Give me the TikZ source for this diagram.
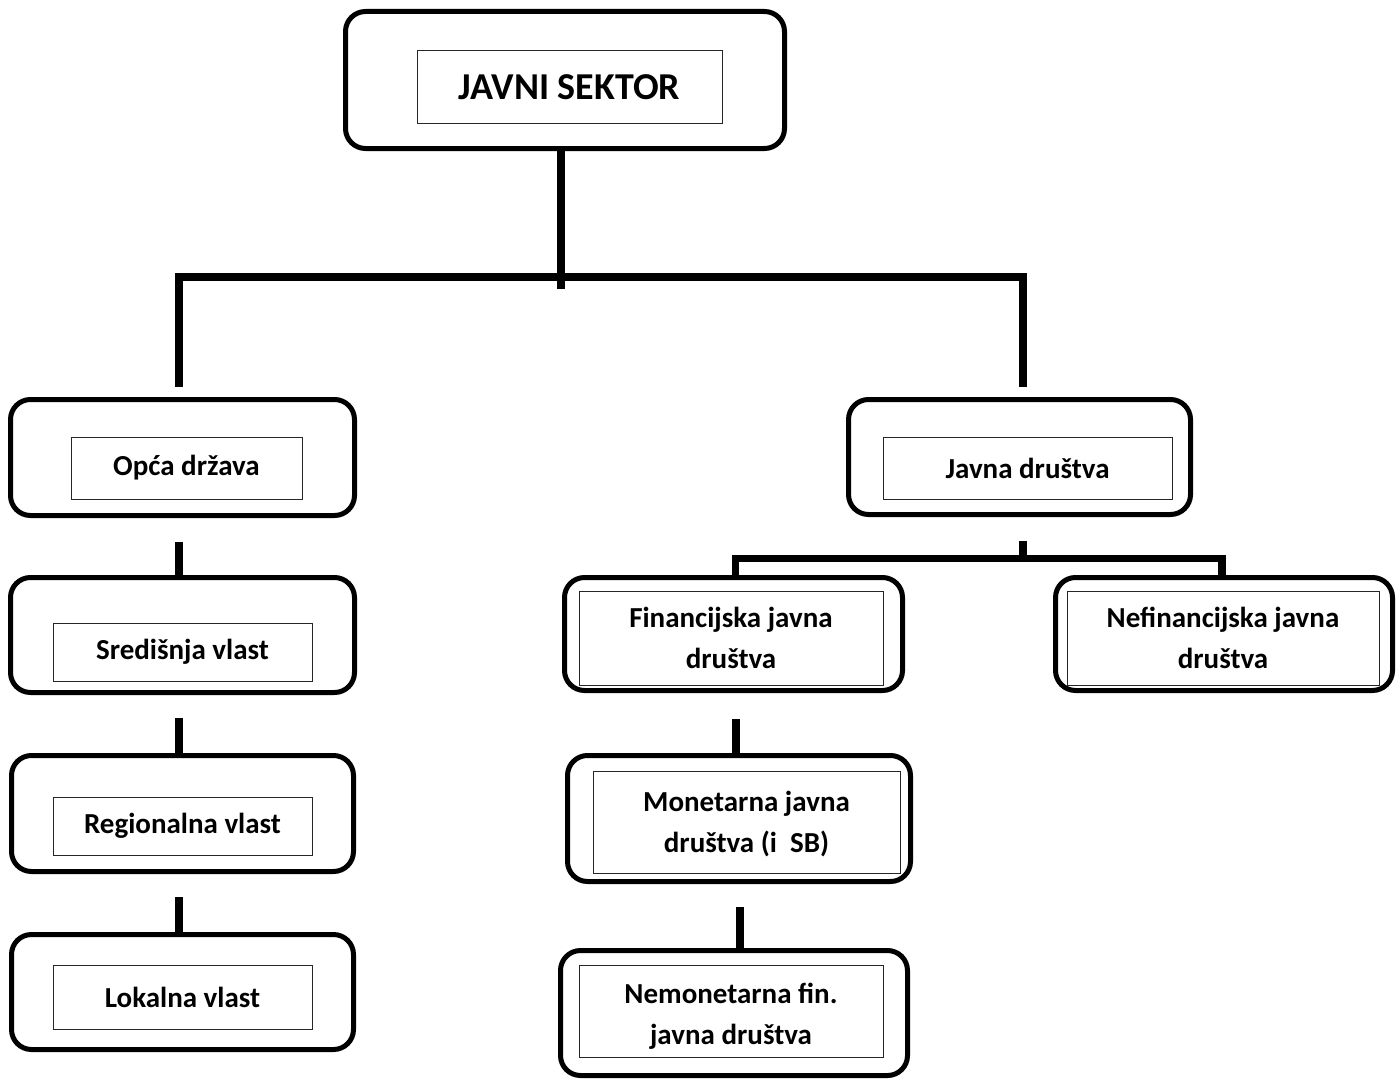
\documentclass[tikz,border=0pt]{standalone}
\usepackage{fontspec}
\setmainfont{Carlito}
\begin{document}
\begin{tikzpicture}[x=1pt,y=-1pt,
  outerbox/.style={draw=black, line width=5pt, rounded corners=20pt, inner sep=0pt},
  innerbox/.style={draw=black!85, line width=1pt, inner sep=0pt, align=center,
    font=\fontsize{29}{41}\selectfont\bfseries},
  conn/.style={line width=7.5pt, line join=miter}]
\useasboundingbox (0,0) rectangle (1397,1081);
\fill[white] (0,0) rectangle (1397,1081);

% top
\node[outerbox, minimum width=439pt, minimum height=137pt] (topO) at (565,80) {};
\node[innerbox, minimum width=305pt, minimum height=72pt, font=\fontsize{38}{44}\selectfont\bfseries] (top) at (569.5,87) {JAVNI SEKTOR};

% left column
\node[outerbox, minimum width=344pt, minimum height=116pt] (opcaO) at (182.5,457.5) {};
\node[innerbox, minimum width=231pt, minimum height=62pt] (opca) at (186.5,468) {Opća država};

\node[outerbox, minimum width=344pt, minimum height=115pt] (sredO) at (182.5,635) {};
\node[innerbox, minimum width=259pt, minimum height=58pt] (sred) at (182.5,652) {Središnja vlast};

\node[outerbox, minimum width=342pt, minimum height=116pt] (regO) at (182.5,813.5) {};
\node[innerbox, minimum width=259pt, minimum height=58pt] (reg) at (182.5,826) {Regionalna vlast};

\node[outerbox, minimum width=342pt, minimum height=115pt] (lokO) at (182.5,992) {};
\node[innerbox, minimum width=259pt, minimum height=64pt] (lok) at (182.5,997) {Lokalna vlast};

% right side
\node[outerbox, minimum width=342pt, minimum height=115pt] (jdO) at (1019.5,457) {};
\node[innerbox, minimum width=289pt, minimum height=62pt] (jd) at (1027.5,468) {Javna društva};

\node[outerbox, minimum width=338pt, minimum height=113pt] (finO) at (733.5,634) {};
\node[innerbox, minimum width=304pt, minimum height=94pt] (fin) at (731,638) {Financijska javna\\društva};

\node[outerbox, minimum width=337pt, minimum height=113pt] (nefO) at (1224,634) {};
\node[innerbox, minimum width=312pt, minimum height=94pt] (nef) at (1223,638) {Nefinancijska javna\\društva};

\node[outerbox, minimum width=343pt, minimum height=126pt] (monO) at (739,818.5) {};
\node[innerbox, minimum width=307pt, minimum height=102pt] (mon) at (746.5,822) {};
\node[innerbox, draw=none] (monT) at ([yshift=-2pt]mon.center) {Monetarna javna\\društva (i\ \ SB)};

\node[outerbox, minimum width=347pt, minimum height=125pt] (nemO) at (734,1013) {};
\node[innerbox, minimum width=304pt, minimum height=92pt] (nem) at (731,1011) {};
\node[innerbox, draw=none] (nemT) at ([yshift=-5pt]nem.center) {Nemonetarna fin.\\javna društva};

% connector coordinates
\coordinate (tj) at (561,277);
\coordinate (tjEnd) at (561,289);
\coordinate (jL) at (179,277);
\coordinate (jR) at (1023,277);
\coordinate (eL) at (179,387);
\coordinate (eR) at (1023,387);
\coordinate (c1) at (179,542);
\coordinate (c2) at (179,718);
\coordinate (c3) at (179,897);
\coordinate (d0) at (1023,541);
\coordinate (dj) at (1023,558.5);
\coordinate (dL) at (735.5,558.5);
\coordinate (dR) at (1222,558.5);
\coordinate (f1) at (736,719);
\coordinate (f2) at (740,907);

% connectors
\draw[conn] (topO.south -| tj) -- (tjEnd);
\draw[conn] (eL) -- (jL) -- (jR) -- (eR);
\draw[conn] (c1) -- (sredO.north -| c1);
\draw[conn] (c2) -- (regO.north -| c2);
\draw[conn] (c3) -- (lokO.north -| c3);
\draw[conn] (d0) -- (dj);
\draw[conn] (finO.north -| dL) -- (dL) -- (dR) -- (nefO.north -| dR);
\draw[conn] (f1) -- (monO.north -| f1);
\draw[conn] (f2) -- (nemO.north -| f2);
\end{tikzpicture}
\end{document}
